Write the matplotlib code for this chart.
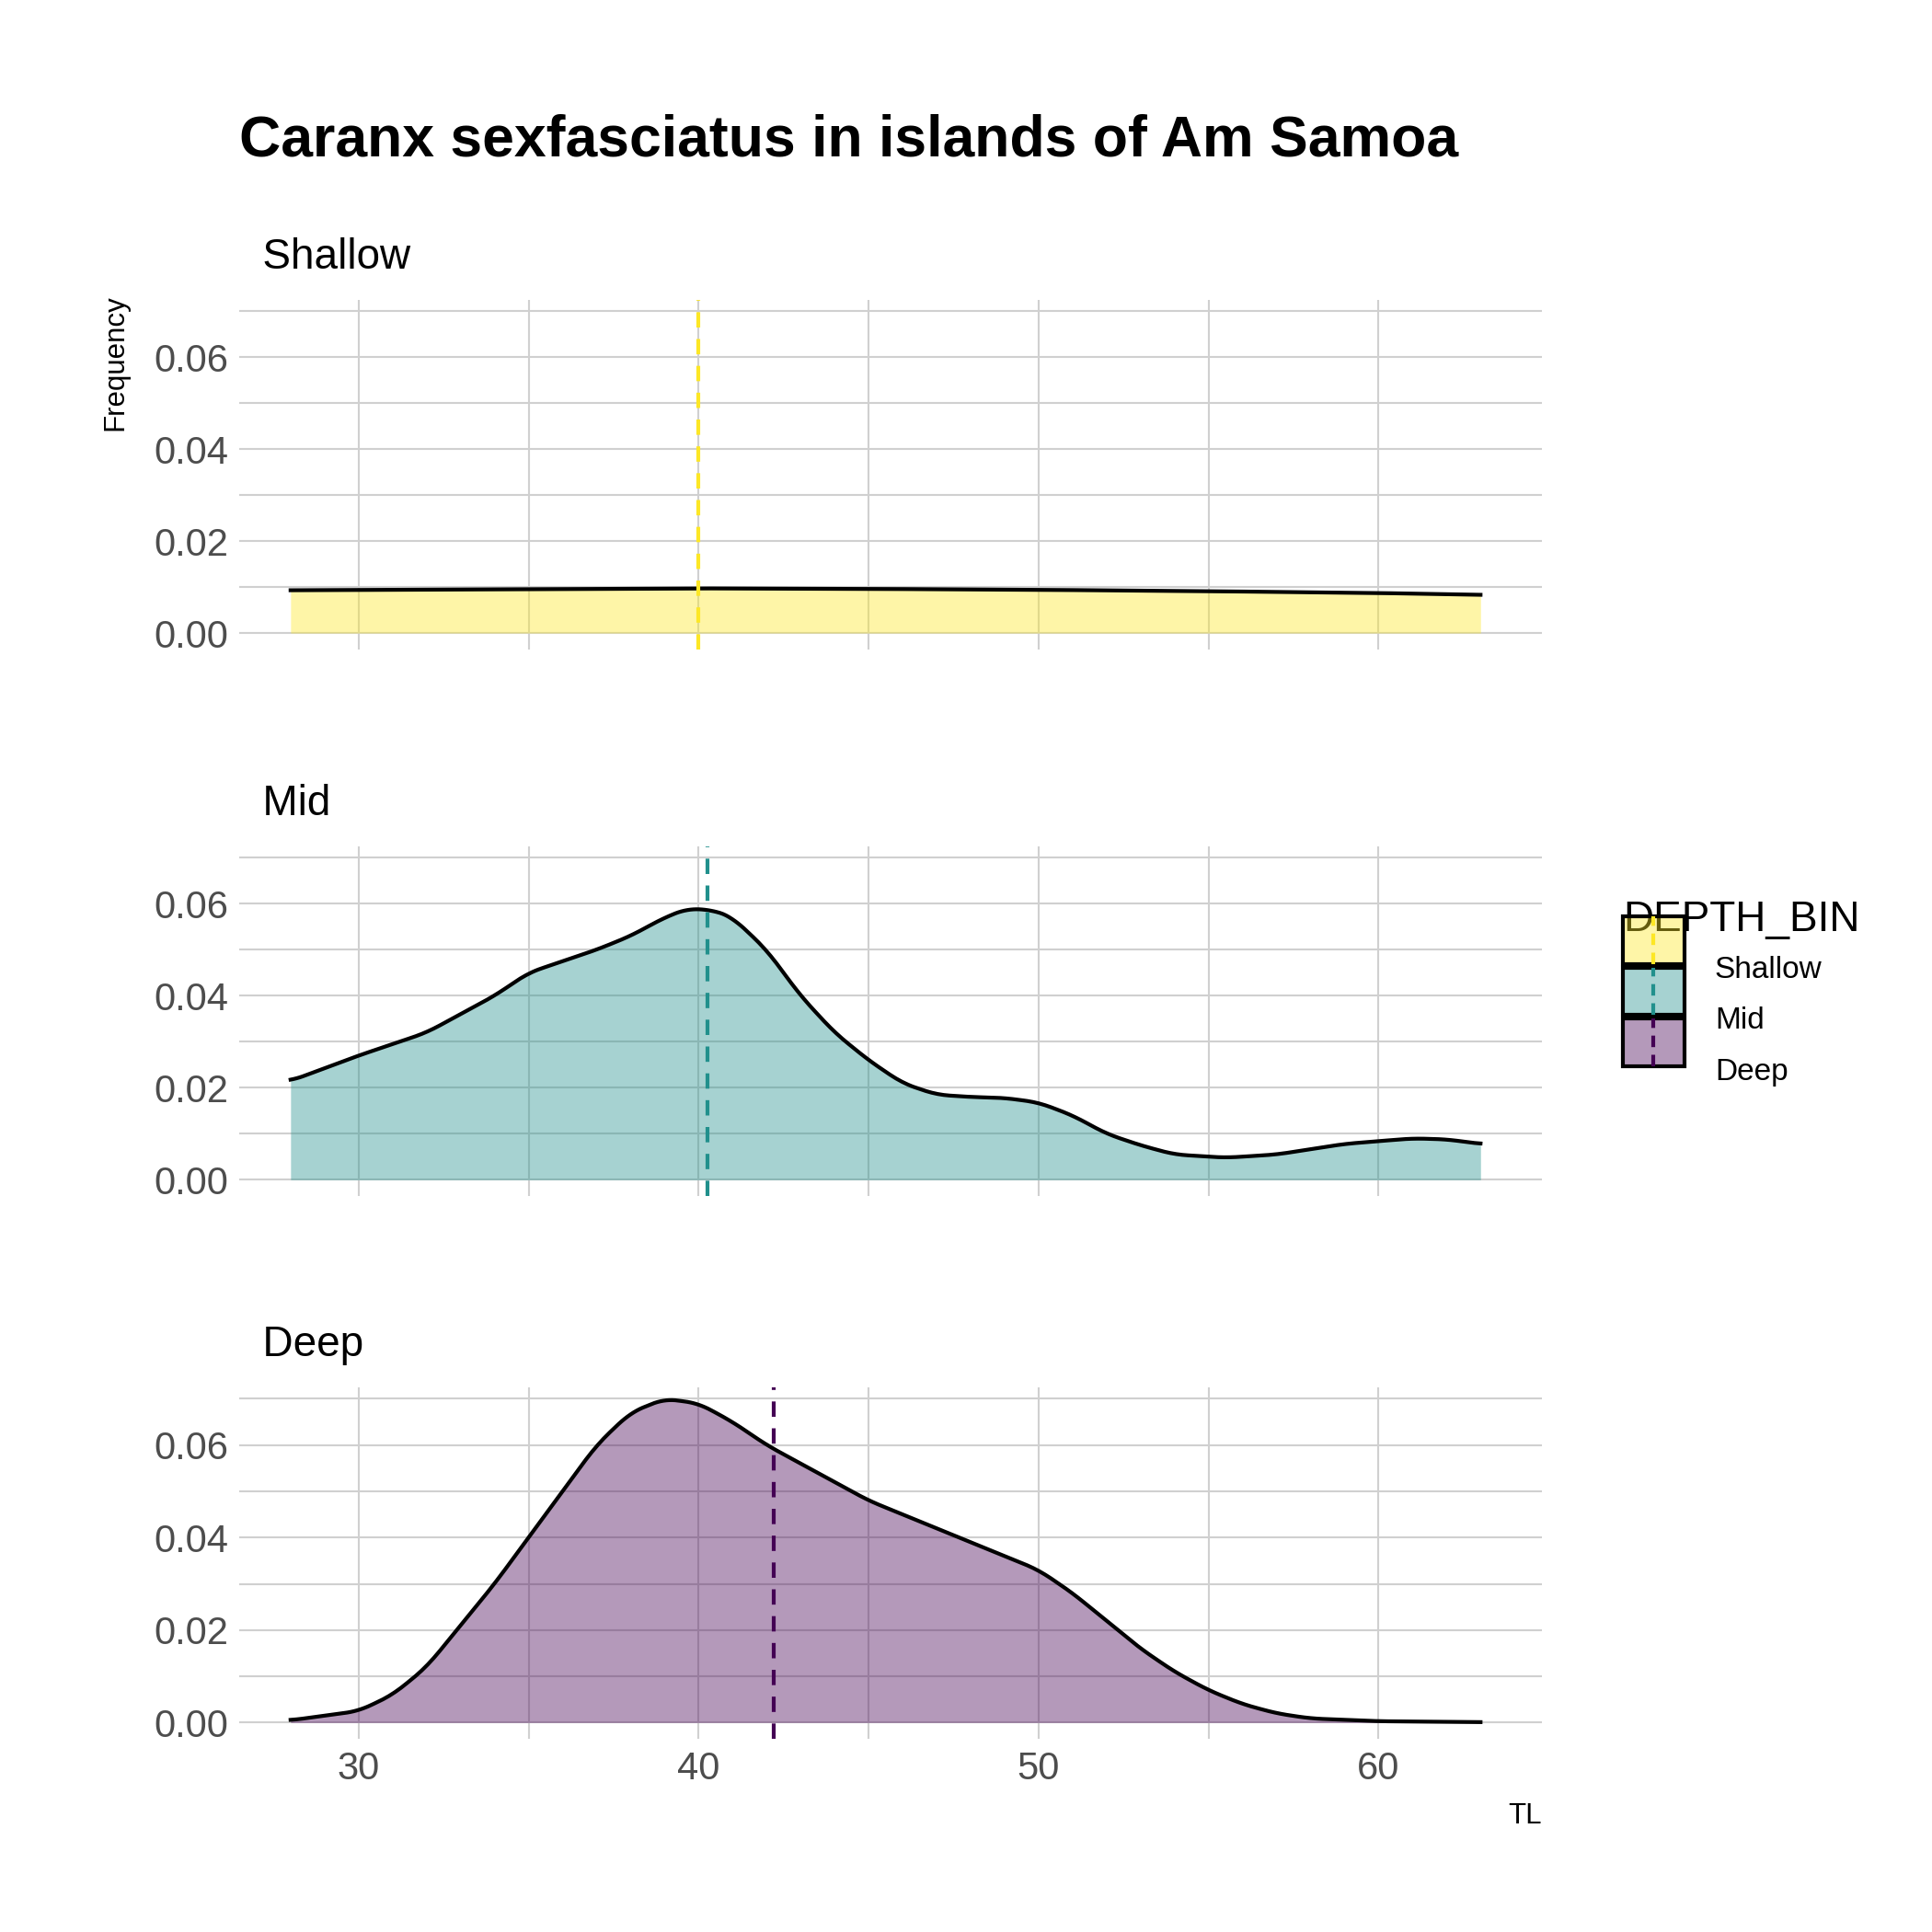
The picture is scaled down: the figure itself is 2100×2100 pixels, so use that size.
import matplotlib
matplotlib.use("Agg")
import matplotlib.pyplot as plt
import numpy as np
from matplotlib.patches import Rectangle
from matplotlib.lines import Line2D
from matplotlib.legend_handler import HandlerBase

plt.rcParams['font.family'] = ['Liberation Sans', 'DejaVu Sans']

bins = ["Shallow", "Mid", "Deep"]
colors = ["#FDE725", "#21908C", "#440154"]
means = [40.0, 40.25, 42.2]

shallow_x = [28, 34, 40, 45, 50, 55, 60, 63]
shallow_y = [0.0093, 0.0095, 0.0097, 0.0096, 0.0094, 0.0091, 0.0087, 0.0083]
mid_x = [28, 30, 32, 34, 35, 37, 38, 39, 39.7, 40.5, 41, 42, 43, 44, 45, 46, 47, 48, 49, 50, 51, 52, 53, 54, 55.5, 57, 59, 61, 62, 63]
mid_y = [0.0215, 0.027, 0.032, 0.040, 0.045, 0.050, 0.053, 0.057, 0.059, 0.0585, 0.057, 0.050, 0.040, 0.032, 0.026, 0.021, 0.0185, 0.018, 0.0178, 0.0168, 0.014, 0.010, 0.0075, 0.0055, 0.0048, 0.0055, 0.0078, 0.0090, 0.0088, 0.0078]
deep_x = [28, 30, 31, 32, 33, 34, 35, 36, 37, 38, 39, 40, 41, 42, 43, 44, 45, 46, 47, 48, 49, 50, 51, 52, 53, 54, 55, 56, 57, 58, 60, 63]
deep_y = [0.0005, 0.0025, 0.006, 0.012, 0.021, 0.030, 0.040, 0.050, 0.060, 0.067, 0.070, 0.069, 0.065, 0.060, 0.056, 0.052, 0.048, 0.045, 0.042, 0.039, 0.036, 0.033, 0.028, 0.022, 0.016, 0.011, 0.007, 0.004, 0.002, 0.0009, 0.0003, 0.0001]
curves = [(shallow_x, shallow_y), (mid_x, mid_y), (deep_x, deep_y)]

fig = plt.figure(figsize=(7, 7), dpi=300)
left, right = 0.124, 0.798
panels = [(0.664, 0.845), (0.381, 0.562), (0.100, 0.282)]
axes = []
for i, (b, t) in enumerate(panels):
    ax = fig.add_axes([left, b, right - left, t - b])
    axes.append(ax)
    xs = np.linspace(28, 63, 400)
    ys = np.interp(xs, *curves[i])
    k = np.ones(9) / 9
    ysm = np.convolve(np.pad(ys, 4, mode='edge'), k, mode='valid')
    ax.fill_between(xs, 0, ysm, color=colors[i], alpha=0.4, lw=0, zorder=2)
    ax.plot(xs, ysm, color='black', lw=1.0, zorder=3)
    ax.axvline(means[i], color=colors[i], ls=(0, (4, 3)), lw=1.0, zorder=4)
    ax.set_xlim(26.5, 64.8)
    ax.set_ylim(-0.0035, 0.0725)
    ax.set_yticks([0, 0.02, 0.04, 0.06])
    ax.set_yticklabels(["0.00", "0.02", "0.04", "0.06"])
    ax.set_yticks([0.01, 0.03, 0.05, 0.07], minor=True)
    ax.set_xticks([30, 40, 50, 60])
    ax.set_xticks([35, 45, 55], minor=True)
    ax.grid(True, which='both', color='#d0d0d0', lw=0.5, zorder=0)
    ax.set_axisbelow(True)
    for s in ax.spines.values():
        s.set_visible(False)
    ax.tick_params(which='both', length=0, labelsize=10, labelcolor='#4d4d4d', pad=3)
    ax.set_title("  " + bins[i], loc='left', fontsize=11, pad=8)
    if i < 2:
        ax.tick_params(labelbottom=False)
axes[0].set_ylabel("Frequency", fontsize=7.5)
axes[0].yaxis.set_label_coords(-0.085, 0.82)
axes[2].set_xlabel("TL", fontsize=7.5, loc='right')

fig.text(0.124, 0.913, "Caranx sexfasciatus in islands of Am Samoa", fontsize=15, fontweight='bold', va='bottom')

class Handler(HandlerBase):
    def __init__(self, c):
        super().__init__(); self.c = c
    def create_artists(self, legend, orig, x0, y0, w, h, fs, trans):
        r = Rectangle((x0, y0), w, h, facecolor=orig.get_facecolor(), edgecolor='black', lw=1.0, transform=trans)
        l = Line2D([x0 + w / 2, x0 + w / 2], [y0, y0 + h], color=self.c, ls=(0, (3, 2)), lw=1.0, transform=trans)
        return [r, l]

handles = [Rectangle((0, 0), 1, 1, facecolor=matplotlib.colors.to_rgba(c, 0.4)) for c in colors]
fig.legend(handles, bins, handler_map={h: Handler(c) for h, c in zip(handles, colors)},
           loc='upper left', bbox_to_anchor=(0.832, 0.542), frameon=False, title="DEPTH_BIN",
           title_fontsize=11, fontsize=8, handlelength=2.0, handleheight=2.0,
           labelspacing=0.12, handletextpad=1.0, alignment='left', borderpad=0)
fig.savefig("out.png", dpi=300, facecolor='white')
